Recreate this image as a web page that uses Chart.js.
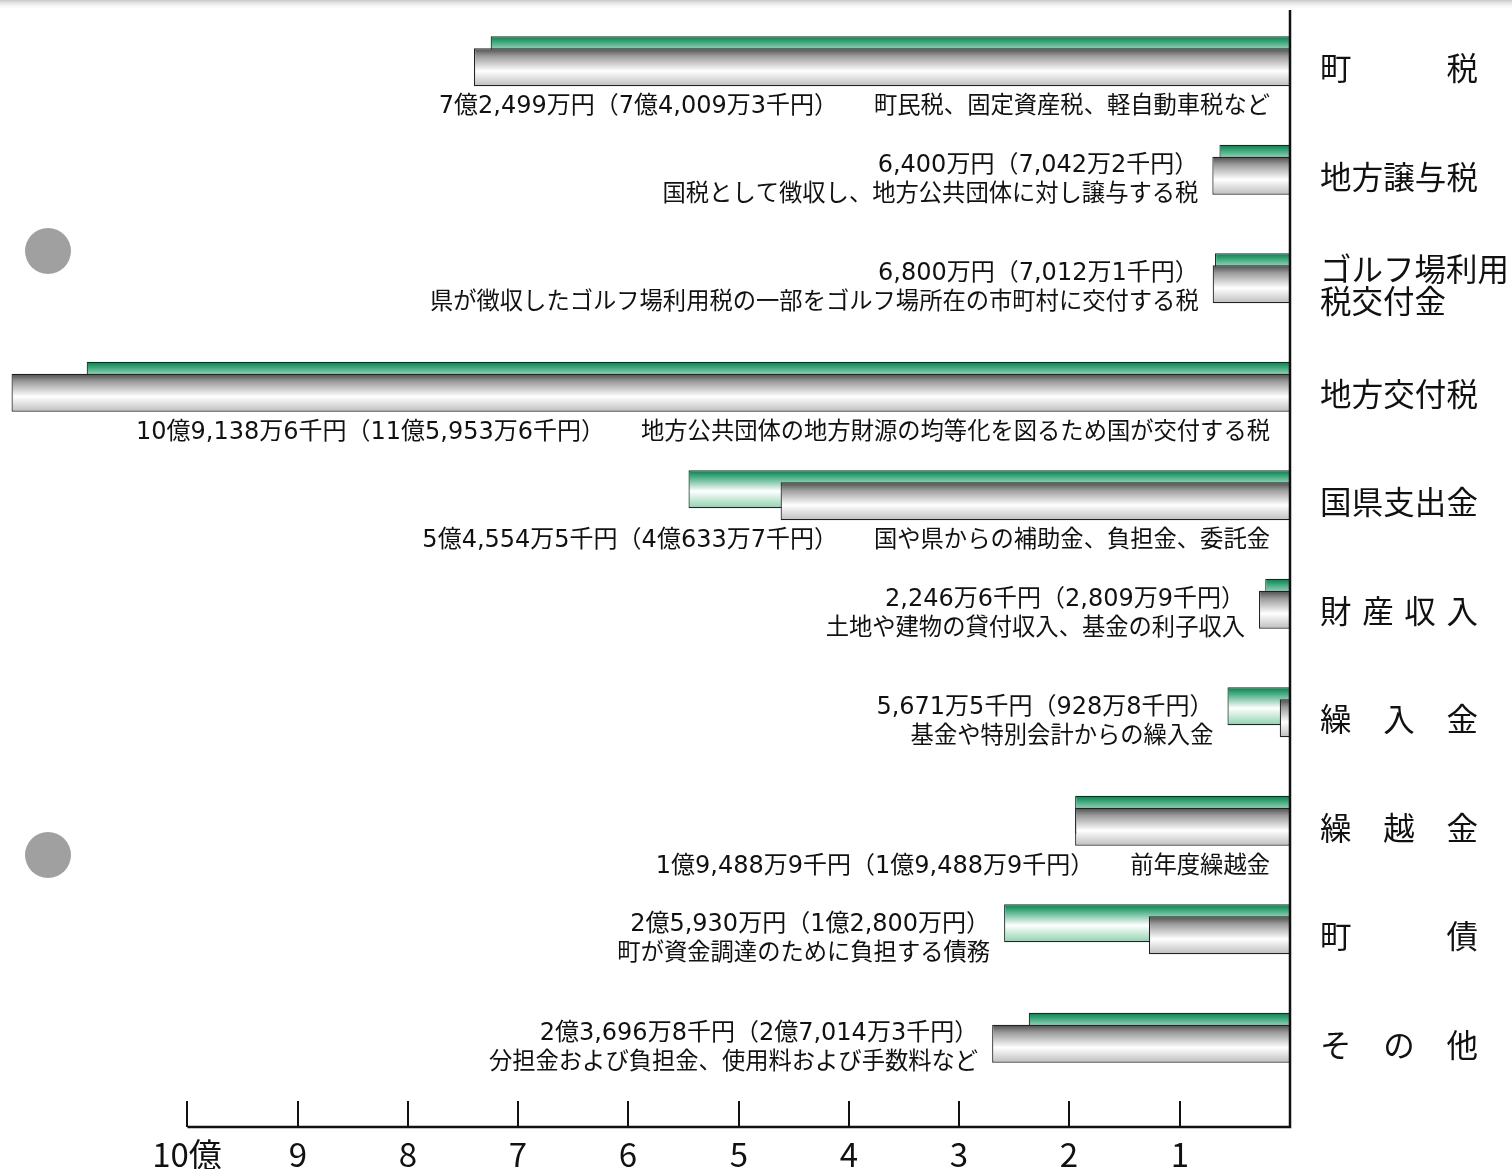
<!DOCTYPE html>
<html lang="ja">
<head>
<meta charset="utf-8">
<script src="https://cdn.jsdelivr.net/npm/chart.js@4.4.1/dist/chart.umd.min.js"></script>
<style>
  html, body { margin: 0; padding: 0; background: #fff; }
  #wrap { position: relative; width: 1512px; height: 1169px; }
</style>
</head>
<body>
<div id="wrap"><canvas id="revenueChart"></canvas></div>
<script>
// ===== DATA (単位: 億円) =====
const categories = ["町税", "地方譲与税", ["ゴルフ場利用", "税交付金"], "地方交付税", "国県支出金",
  "財産収入", "繰入金", "繰越金", "町債", "その他"];
const currentYear = [7.2499, 0.64, 0.68, 10.91386, 5.45545, 0.224666, 0.56715, 1.94889, 2.593, 2.36968];
// 国県支出金 の前年度バーは元の図で約4.62の位置に描かれている
const previousYear = [7.40093, 0.70422, 0.70121, 11.59536, 4.62, 0.28099, 0.09288, 1.94889, 1.28, 2.70143];
const amountLabels = [
  "7億2,499万円（7億4,009万3千円）",
  "6,400万円（7,042万2千円）",
  "6,800万円（7,012万1千円）",
  "10億9,138万6千円（11億5,953万6千円）",
  "5億4,554万5千円（4億633万7千円）",
  "2,246万6千円（2,809万9千円）",
  "5,671万5千円（928万8千円）",
  "1億9,488万9千円（1億9,488万9千円）",
  "2億5,930万円（1億2,800万円）",
  "2億3,696万8千円（2億7,014万3千円）"
];
const descriptions = [
  "町民税、固定資産税、軽自動車税など",
  "国税として徴収し、地方公共団体に対し譲与する税",
  "県が徴収したゴルフ場利用税の一部をゴルフ場所在の市町村に交付する税",
  "地方公共団体の地方財源の均等化を図るため国が交付する税",
  "国や県からの補助金、負担金、委託金",
  "土地や建物の貸付収入、基金の利子収入",
  "基金や特別会計からの繰入金",
  "前年度繰越金",
  "町が資金調達のために負担する債務",
  "分担金および負担金、使用料および手数料など"
];
const tickValues = [1, 2, 3, 4, 5, 6, 7, 8, 9, 10];
const tickLabels = ["1", "2", "3", "4", "5", "6", "7", "8", "9", "10億"];

// label layout: "below" = one line under the bars, "left" = two lines left of the bars
const labelMode = ["below", "left", "left", "below", "below", "left", "left", "below", "left", "left"];

const SANS = '"Noto Sans CJK JP", "Noto Sans", sans-serif';
const NUMSANS = '"DejaVu Sans", "Noto Sans CJK JP", sans-serif';

// ===== GRADIENTS =====
function barGradient(c, top) {
  const chart = c.chart;
  const ys = chart.scales.y;
  if (!ys || !chart.chartArea) return top ? "#2a9a6e" : "#999";
  const mid = ys.getPixelForValue(c.dataIndex) + (top ? -6 : 6);
  const g = chart.ctx.createLinearGradient(0, mid - 19, 0, mid + 19);
  if (top) {
    g.addColorStop(0, "#0b7a4e");
    g.addColorStop(0.15, "#3aa87a");
    g.addColorStop(0.55, "#ffffff");
    g.addColorStop(1, "#8fd0ad");
  } else {
    g.addColorStop(0, "#4a4a4a");
    g.addColorStop(0.2, "#9a9a9a");
    g.addColorStop(0.6, "#ffffff");
    g.addColorStop(1, "#bdbdbd");
  }
  return g;
}

// ===== DECORATION + LABELS PLUGIN =====
const decorPlugin = {
  id: "decor",
  beforeDraw(chart) {
    const ctx = chart.ctx;
    // top shadow line
    const sh = ctx.createLinearGradient(0, 0, 0, 10);
    sh.addColorStop(0, "#c8c8c8");
    sh.addColorStop(1, "rgba(255,255,255,0)");
    ctx.fillStyle = sh;
    ctx.fillRect(0, 0, chart.width, 10);
    // gray dots
    ctx.fillStyle = "#a0a0a0";
    [251, 855].forEach(y => {
      ctx.beginPath();
      ctx.arc(48, y, 23, 0, Math.PI * 2);
      ctx.fill();
    });
  },
  // green (current year) drawn first, grey (previous year) on top of it
  beforeDatasetsDraw(chart) {
    chart.getDatasetMeta(0).controller.draw();
  },
  beforeDatasetDraw(chart, args) {
    if (args.index === 0) return false;
  },
  afterDatasetsDraw(chart) {
    const ctx = chart.ctx;
    const xs = chart.scales.x, ys = chart.scales.y;
    const area = chart.chartArea;
    const zeroX = xs.getPixelForValue(0);
    const baseY = area.bottom + 35;

    // value axis
    ctx.save();
    ctx.strokeStyle = "#111";
    ctx.lineWidth = 2.5;
    ctx.beginPath();
    ctx.moveTo(zeroX, 10);
    ctx.lineTo(zeroX, baseY);
    ctx.lineTo(xs.getPixelForValue(10), baseY);
    ctx.stroke();
    ctx.lineWidth = 2;
    ctx.font = "33px " + SANS;
    ctx.fillStyle = "#111";
    ctx.textAlign = "center";
    ctx.textBaseline = "alphabetic";
    tickValues.forEach((v, i) => {
      const px = Math.round(xs.getPixelForValue(v));
      ctx.beginPath();
      ctx.moveTo(px, baseY - 26);
      ctx.lineTo(px, baseY);
      ctx.stroke();
      ctx.fillText(tickLabels[i], px, baseY + 40);
    });

    // category names on the right
    ctx.font = "31.5px " + SANS;
    ctx.textBaseline = "middle";
    ctx.textAlign = "left";
    const nameL = 1320, nameR = 1478;
    categories.forEach((name, i) => {
      const cy = ys.getPixelForValue(i) + 7;
      if (Array.isArray(name)) {
        ctx.fillText(name[0], nameL, cy - 16);
        ctx.fillText(name[1], nameL, cy + 16);
        return;
      }
      const chars = [...name];
      const widths = chars.map(ch => ctx.measureText(ch).width);
      const total = widths.reduce((a, b) => a + b, 0);
      const gap = chars.length > 1 ? (nameR - nameL - total) / (chars.length - 1) : 0;
      let x = nameL;
      chars.forEach((ch, k) => {
        ctx.fillText(ch, x, cy);
        x += widths[k] + gap;
      });
    });

    // amount + description labels (shared alphabetic baseline)
    ctx.textAlign = "right";
    ctx.textBaseline = "alphabetic";
    categories.forEach((name, i) => {
      const cy = ys.getPixelForValue(i);
      const leftEdge = Math.min(xs.getPixelForValue(currentYear[i]), xs.getPixelForValue(previousYear[i]));
      if (labelMode[i] === "below") {
        const y = cy + 52;
        ctx.font = "23.3px " + SANS;
        const descRight = zeroX - 20;
        const dw = ctx.measureText(descriptions[i]).width;
        ctx.fillText(descriptions[i], descRight, y);
        ctx.font = "24px " + NUMSANS;
        ctx.fillText(amountLabels[i], descRight - dw - 36, y);
      } else {
        const r = leftEdge - 14;
        ctx.font = "24px " + NUMSANS;
        ctx.fillText(amountLabels[i], r, cy + 2);
        ctx.font = "23.3px " + SANS;
        ctx.fillText(descriptions[i], r, cy + 31);
      }
    });
    ctx.restore();
  }
};

// ===== CHART =====
const chartCtx = document.getElementById("revenueChart").getContext("2d");
new Chart(chartCtx, {
  type: "bar",
  data: {
    labels: categories,
    datasets: [
      {
        label: "今年度",
        data: currentYear,
        backgroundColor: c => barGradient(c, true),
        borderColor: "#1a2a22",
        borderWidth: 1.2,
        borderSkipped: "start"
      },
      {
        label: "前年度",
        data: previousYear,
        backgroundColor: c => barGradient(c, false),
        borderColor: "#222",
        borderWidth: 1.2,
        borderSkipped: "start"
      }
    ]
  },
  options: {
    indexAxis: "y",
    responsive: true,
    maintainAspectRatio: false,
    animation: false,
    categoryPercentage: 0.2212,
    barPercentage: 3.167,
    layout: { padding: { top: 7, bottom: 77, left: 0, right: 222 } },
    plugins: { legend: { display: false }, tooltip: { enabled: false } },
    scales: {
      x: { display: false, reverse: true, min: 0, max: 11.7 },
      y: { display: false }
    }
  },
  plugins: [decorPlugin]
});
</script>
</body>
</html>
